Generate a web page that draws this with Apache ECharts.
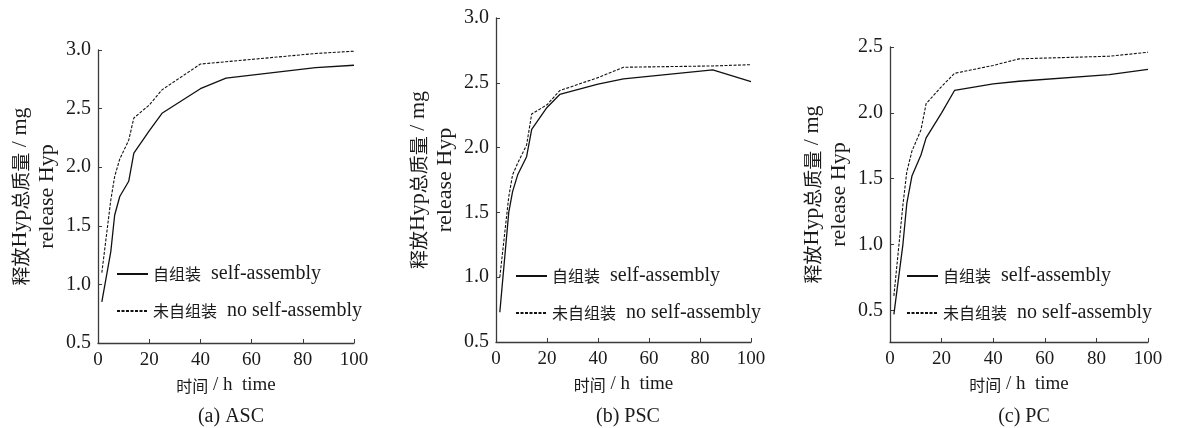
<!DOCTYPE html>
<html>
<head>
<meta charset="utf-8">
<script src="https://cdn.jsdelivr.net/npm/echarts@6/dist/echarts.min.js"></script>
<style>html,body{margin:0;padding:0;background:#fff}#c{width:1186px;height:428px}</style>
</head>
<body>
<div id="c"></div>
<script>
// time points (h)
const T = [1.5, 5, 6.5, 8.5, 12, 14, 20, 25, 40, 50, 85, 100];
// (a) ASC
const ascSelf = [0.85, 1.28, 1.59, 1.75, 1.88, 2.12, 2.31, 2.46, 2.67, 2.76, 2.85, 2.87];
const ascNo   = [1.10, 1.72, 1.92, 2.07, 2.23, 2.42, 2.53, 2.66, 2.88, 2.90, 2.97, 2.99];
// (b) PSC
const pscSelf = [0.73, 1.50, 1.66, 1.79, 1.93, 2.14, 2.31, 2.41, 2.49, 2.53, 2.60, 2.51];
const pscNo   = [1.00, 1.62, 1.79, 1.88, 2.02, 2.26, 2.33, 2.44, 2.54, 2.62, 2.63, 2.64];
// (c) PC
const pcSelf  = [0.47, 1.00, 1.31, 1.52, 1.68, 1.81, 2.00, 2.17, 2.22, 2.24, 2.29, 2.33];
const pcNo    = [0.61, 1.30, 1.55, 1.71, 1.87, 2.07, 2.20, 2.30, 2.36, 2.41, 2.43, 2.46];

const xTicks = [0, 20, 40, 60, 80, 100];
const yTicksAB = [0.5, 1.0, 1.5, 2.0, 2.5, 3.0];
const yTicksC = [0.5, 1.0, 1.5, 2.0, 2.5];
const seriesNames = ['自组装|self-assembly', '未自组装|no self-assembly'];
const captions = ['(a) ASC', '(b) PSC', '(c) PC'];
const xName = ['时间', ' / h  time'];
const yName = [['释放', 'Hyp', '总质量', ' / mg'], 'release Hyp'];

const FONT = "'Liberation Serif', 'Noto Sans CJK SC', serif";
const INK = '#1a1a1a';
const AXIS = '#3a3a3a';

const panels = [
  {grid: {left: 98, top: 50, width: 256, height: 293}, ymin: 0.5, ymax: 3.0, ticks: yTicksAB, self: ascSelf, no: ascNo, legendTop: 264, legendLeft: 116, cx: 226},
  {grid: {left: 496, top: 18, width: 255, height: 324}, ymin: 0.5, ymax: 3.0, ticks: yTicksAB, self: pscSelf, no: pscNo, legendTop: 266, legendLeft: 515, cx: 623},
  {grid: {left: 890, top: 47, width: 258, height: 295}, ymin: 0.26, ymax: 2.5, ticks: yTicksC, self: pcSelf, no: pcNo, legendTop: 266, legendLeft: 906, cx: 1019}
];

const pairs = vals => T.map((t, i) => [t, vals[i]]);
const legendName = n => n.replace('|', '  ');

const option = {
  animation: false,
  backgroundColor: '#fff',
  textStyle: {fontFamily: FONT, color: INK},
  grid: panels.map(p => Object.assign({containLabel: false}, p.grid)),
  title: panels.map((p, i) => ({
    text: captions[i], left: p.cx, top: 402, textAlign: 'center',
    textStyle: {fontFamily: FONT, fontSize: 20, fontWeight: 'normal', color: INK}
  })),
  legend: panels.map(p => ({
    orient: 'vertical', left: p.legendLeft, top: p.legendTop, padding: 0,
    itemWidth: 31, itemHeight: 14, itemGap: 17,
    data: seriesNames.map(legendName),
    selectedMode: false,
    itemStyle: {opacity: 0, color: 'rgba(0,0,0,0)', borderWidth: 0},
    formatter: name => {
      const parts = name.split('  ');
      return '{c|' + parts[0] + '}{e|  ' + parts[1] + '}';
    },
    textStyle: {
      fontFamily: FONT, color: INK, padding: [0, 0, 0, 0],
      rich: {
        c: {fontSize: 16, fontFamily: "'Noto Sans CJK SC'", color: INK, lineHeight: 20},
        e: {fontSize: 20, fontFamily: "'Liberation Serif'", color: INK, lineHeight: 20}
      }
    }
  })),
  xAxis: panels.map((p, i) => ({
    type: 'value', gridIndex: i, min: 0, max: 100, interval: 20,
    name: '{c|' + xName[0] + '}{e|' + xName[1] + '}',
    nameLocation: 'middle', nameGap: 33,
    nameTextStyle: {rich: {
      c: {fontSize: 16, fontFamily: "'Noto Sans CJK SC'", color: INK},
      e: {fontSize: 19, fontFamily: "'Liberation Serif'", color: INK}
    }},
    axisLine: {show: true, onZero: false, lineStyle: {color: AXIS, width: 1.3}},
    axisTick: {show: true, inside: true, length: 4, lineStyle: {color: AXIS}},
    axisLabel: {fontSize: 19, margin: 8, color: INK, fontFamily: FONT,
      formatter: v => xTicks.indexOf(v) >= 0 ? String(v) : ''},
    splitLine: {show: false}
  })),
  yAxis: panels.map((p, i) => ({
    type: 'value', gridIndex: i, min: p.ymin, max: p.ymax,
    name: '{c|' + yName[0][0] + '}{e|' + yName[0][1] + '}{c|' + yName[0][2] + '}{e|' + yName[0][3] + '}\n{e|' + yName[1] + '}',
    nameLocation: 'middle', nameGap: 37, nameRotate: 90,
    nameTextStyle: {align: 'center', rich: {
      c: {fontSize: 19, fontFamily: "'Noto Sans CJK SC'", color: INK, lineHeight: 27},
      e: {fontSize: 22, fontFamily: "'Liberation Serif'", color: INK, lineHeight: 27}
    }},
    axisLine: {show: true, onZero: false, lineStyle: {color: AXIS, width: 1.3}},
    axisTick: {show: true, inside: true, length: 4, lineStyle: {color: AXIS}, customValues: p.ticks},
    axisLabel: {fontSize: 20, margin: 7, color: INK, fontFamily: FONT, customValues: p.ticks,
      formatter: v => v.toFixed(1)},
    splitLine: {show: false}
  })),
  series: []
};

panels.forEach((p, i) => {
  option.series.push({
    name: legendName(seriesNames[0]), type: 'line', xAxisIndex: i, yAxisIndex: i,
    data: pairs(p.self), symbol: 'none', smooth: false,
    lineStyle: {color: '#111', width: 1.3, type: 'solid'}, itemStyle: {color: '#111'}
  });
  option.series.push({
    name: legendName(seriesNames[1]), type: 'line', xAxisIndex: i, yAxisIndex: i,
    data: pairs(p.no), symbol: 'none', smooth: false,
    lineStyle: {color: '#111', width: 1.1, type: [3, 1.5]}, itemStyle: {color: '#111'}
  });
});

const chart = echarts.init(document.getElementById('c'), null, {renderer: 'canvas'});
chart.setOption(option);
</script>
</body>
</html>
